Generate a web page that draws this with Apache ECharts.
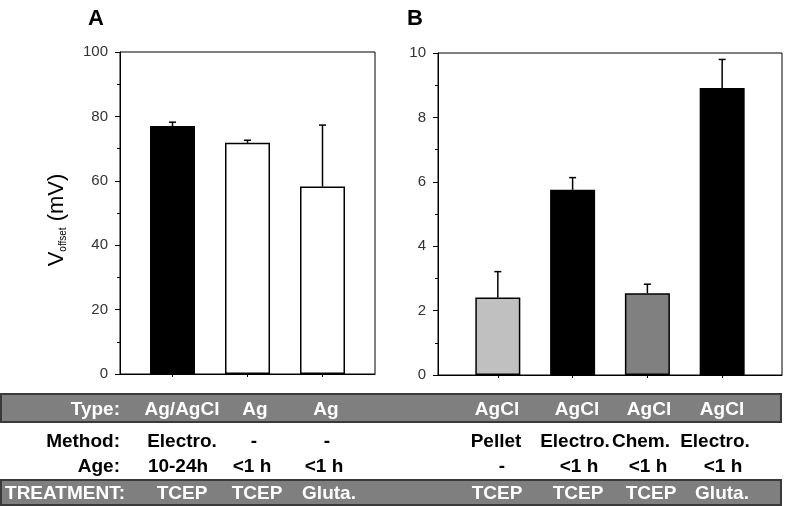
<!DOCTYPE html>
<html><head><meta charset="utf-8">
<script src="https://cdn.jsdelivr.net/npm/echarts@6/dist/echarts.min.js"></script>
<style>html,body{margin:0;padding:0;background:#fff}#c{width:785px;height:506px}</style>
</head><body><div id="c"></div>
<script>
// ---- data ----
var typeA = ['Ag/AgCl', 'Ag', 'Ag'];
var methodA = ['Electro.', '-', '-'];
var ageA = ['10-24h', '<1 h', '<1 h'];
var treatA = ['TCEP', 'TCEP', 'Gluta.'];
var valuesA = [77.0, 71.8, 58.2];
var errA = [1.2, 0.8, 19.1];

var typeB = ['AgCl', 'AgCl', 'AgCl', 'AgCl'];
var methodB = ['Pellet', 'Electro.', 'Chem.', 'Electro.'];
var ageB = ['-', '<1 h', '<1 h', '<1 h'];
var treatB = ['TCEP', 'TCEP', 'TCEP', 'Gluta.'];
var valuesB = [2.41, 5.75, 2.54, 8.91];
var errB = [0.80, 0.38, 0.28, 0.89];

var yTicksA = {min: 0, max: 100, interval: 20};
var yTicksB = {min: 0, max: 10, interval: 2};

// ---- style ----
var colorsA = ['#000000', '#ffffff', '#ffffff'];
var colorsB = ['#c0c0c0', '#000000', '#808080', '#000000'];
var FONT = '"Liberation Sans", Arial, sans-serif';

var chart = echarts.init(document.getElementById('c'), null, {renderer: 'canvas'});

function barData(vals, cols) {
  return vals.map(function (v, i) {
    return {value: [i, v], itemStyle: {color: cols[i], borderColor: '#000', borderWidth: cols[i] === '#000000' ? 0 : 1.5}};
  });
}
function errData(vals, errs) {
  return vals.map(function (v, i) { return [i, v, errs[i]]; });
}
function errRender(params, api) {
  var x = api.value(0), v = api.value(1), e = api.value(2);
  var p0 = api.coord([x, v]);
  var p1 = api.coord([x, v + e]);
  var st = {stroke: '#000', lineWidth: 1.5};
  return {type: 'group', children: [
    {type: 'line', shape: {x1: p0[0], y1: p0[1], x2: p1[0], y2: p1[1]}, style: st},
    {type: 'line', shape: {x1: p1[0] - 3.5, y1: p1[1], x2: p1[0] + 3.5, y2: p1[1]}, style: st}
  ]};
}
function xAxisDef(gi, n, pad) {
  var ticks = [];
  for (var i = 0; i < n; i++) ticks.push(i);
  return {
    gridIndex: gi, type: 'value', min: -pad, max: n - 1 + pad,
    axisLine: {show: true, onZero: false, lineStyle: {color: '#000', width: 1}},
    axisTick: {show: true, customValues: ticks, length: 3, lineStyle: {color: '#000'}},
    axisLabel: {show: false}, splitLine: {show: false}
  };
}
function yAxisDef(gi, t, extra) {
  var a = {
    gridIndex: gi, type: 'value', min: t.min, max: t.max, interval: t.interval,
    axisLine: {show: true, onZero: false, lineStyle: {color: '#000', width: 1}},
    axisTick: {show: true, length: 5, lineStyle: {color: '#000'}},
    minorTick: {show: true, splitNumber: 2, length: 3, lineStyle: {color: '#000'}},
    axisLabel: {fontSize: 15, color: '#333', margin: 12, fontFamily: FONT},
    splitLine: {show: false}
  };
  for (var k in extra) a[k] = extra[k];
  return a;
}

// ---- table (graphic) ----
var graphics = [];
graphics.push({type: 'text', left: 88, top: 8, style: {text: 'A', font: 'bold 22px ' + FONT, fill: '#000'}});
graphics.push({type: 'text', left: 407, top: 8, style: {text: 'B', font: 'bold 22px ' + FONT, fill: '#000'}});
function band(y, h) {
  graphics.push({type: 'rect', shape: {x: 1, y: y, width: 780, height: h},
    style: {fill: '#7f7f7f', stroke: '#3a3a3a', lineWidth: 2}, z: 1});
}
band(394, 28);
band(480, 25);
function txt(s, x, y, align, color) {
  graphics.push({type: 'text', x: x, y: y, z: 2,
    style: {text: s, font: 'bold 19px ' + FONT, fill: color, textAlign: align, textVerticalAlign: 'middle'}});
}
var rows = [
  {label: 'Type:', y: 410, color: '#fff', a: typeA, b: typeB, xa: [182, 255, 326], xb: [497, 577, 649, 722]},
  {label: 'Method:', y: 442, color: '#000', a: methodA, b: methodB, xa: [182, 254, 327], xb: [496, 575, 641, 715]},
  {label: 'Age:', y: 467, color: '#000', a: ageA, b: ageB, xa: [178, 252, 324], xb: [502, 579, 648, 723]},
  {label: 'TREATMENT:', y: 494, color: '#fff', a: treatA, b: treatB, xa: [182, 257, 329], xb: [497, 578, 651, 722]}
];
rows.forEach(function (r) {
  txt(r.label, r.label === 'TREATMENT:' ? 125 : 120, r.y, 'right', r.color);
  r.a.forEach(function (s, i) { txt(s, r.xa[i], r.y, 'center', r.color); });
  r.b.forEach(function (s, i) { txt(s, r.xb[i], r.y, 'center', r.color); });
});

var option = {
  animation: false,
  backgroundColor: '#fff',
  textStyle: {fontFamily: FONT},
  grid: [
    {left: 120, top: 52, width: 255, height: 322, show: true, borderColor: '#000', borderWidth: 1, backgroundColor: 'transparent'},
    {left: 438, top: 53, width: 344, height: 322, show: true, borderColor: '#000', borderWidth: 1, backgroundColor: 'transparent'}
  ],
  xAxis: [xAxisDef(0, 3, 0.7), xAxisDef(1, 4, 0.8)],
  yAxis: [
    yAxisDef(0, yTicksA, {
      name: '{v|V}{s|offset}{v| (mV)}', nameLocation: 'middle', nameGap: 52,
      nameTextStyle: {padding: [0, 14, 0, 0], rich: {
        v: {fontSize: 22, color: '#000', fontFamily: FONT},
        s: {fontSize: 10, color: '#000', fontFamily: FONT, verticalAlign: 'bottom'}
      }}
    }),
    yAxisDef(1, yTicksB, {})
  ],
  series: [
    {type: 'bar', xAxisIndex: 0, yAxisIndex: 0, barWidth: 45, data: barData(valuesA, colorsA)},
    {type: 'custom', xAxisIndex: 0, yAxisIndex: 0, renderItem: errRender, data: errData(valuesA, errA), z: 5},
    {type: 'bar', xAxisIndex: 1, yAxisIndex: 1, barWidth: 45, data: barData(valuesB, colorsB)},
    {type: 'custom', xAxisIndex: 1, yAxisIndex: 1, renderItem: errRender, data: errData(valuesB, errB), z: 5}
  ],
  graphic: graphics
};
chart.setOption(option);
</script>
</body></html>
